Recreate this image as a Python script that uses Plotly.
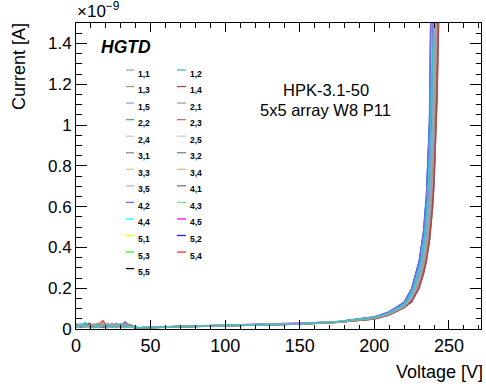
import plotly.graph_objects as go

# ---------------- data ----------------
labels = ["1,1", "1,2", "1,3", "1,4", "1,5", "2,1", "2,2", "2,3", "2,4", "2,5",
          "3,1", "3,2", "3,3", "3,4", "3,5", "4,1", "4,2", "4,3", "4,4", "4,5",
          "5,1", "5,2", "5,3", "5,4", "5,5"]

colors = ["#8fa9c0", "#3fbfbf", "#a89a78", "#a84848", "#8ea8e8", "#a898c0", "#4fb080",
          "#c07850", "#c8c8c8", "#b0d8cc", "#909090", "#808080", "#d0d088", "#e0b888",
          "#c0b4b4", "#906868", "#6f6fe0", "#7be07b", "#00ffff", "#ff00ff", "#ffff00",
          "#2020ff", "#22ff22", "#ff3030", "#000000"]

# bias voltage points [V]
volt_noise = [0, 3, 6, 9, 12, 15, 18, 21, 24, 27, 30, 33, 36, 39]
volt_smooth = [42, 50, 75, 100, 125, 150, 175]
volt_tail = [200, 210, 220, 225, 230, 233, 235, 237, 238, 239, 240, 241, 242, 243, 244]

# leakage current [pA], one row per pad (same order as labels)
noise_pA = [
    [12, 20, 8, 15, 22, 10, 18, 6, 14, 24, 9, 16, 11, 7],
    [18, 10, 25, 13, 6, 19, 12, 22, 8, 15, 20, 10, 17, 9],
    [8, 15, 21, 9, 17, 13, 24, 11, 19, 7, 14, 22, 9, 12],
    [22, 9, 14, 27, 11, 16, 8, 20, 13, 25, 10, 15, 19, 6],
    [15, 26, 11, 18, 9, 21, 14, 7, 23, 12, 18, 8, 14, 10],
    [10, 14, 19, 7, 24, 12, 17, 26, 10, 16, 23, 13, 8, 15],
    [25, 12, 16, 21, 14, 8, 22, 13, 17, 9, 26, 11, 20, 8],
    [9, 19, 13, 24, 16, 27, 10, 18, 12, 21, 15, 24, 10, 13],
    [14, 7, 22, 11, 19, 15, 9, 23, 16, 11, 19, 8, 15, 11],
    [20, 16, 10, 17, 25, 11, 19, 14, 21, 13, 8, 17, 23, 7],
    [7, 22, 17, 12, 8, 23, 15, 10, 26, 18, 12, 20, 13, 9],
    [17, 11, 27, 14, 20, 9, 13, 24, 11, 19, 16, 9, 21, 12],
    [11, 24, 9, 19, 13, 18, 26, 8, 15, 22, 11, 18, 10, 14],
    [23, 13, 15, 8, 18, 24, 11, 17, 9, 14, 25, 12, 16, 8],
    [13, 18, 23, 16, 10, 14, 20, 12, 24, 8, 17, 21, 12, 10],
    [19, 8, 12, 22, 15, 20, 9, 25, 14, 17, 11, 23, 18, 11],
    [16, 23, 10, 13, 21, 7, 18, 15, 11, 26, 14, 35, 13, 9],
    [9, 14, 20, 25, 12, 17, 23, 9, 18, 12, 21, 10, 24, 13],
    [21, 17, 33, 10, 16, 13, 11, 19, 22, 9, 15, 19, 11, 8],
    [14, 21, 16, 9, 23, 18, 15, 12, 20, 16, 9, 14, 22, 12],
    [10, 12, 18, 20, 11, 25, 14, 21, 9, 19, 13, 16, 9, 11],
    [24, 15, 12, 16, 19, 11, 21, 10, 17, 23, 18, 11, 15, 7],
    [12, 19, 24, 11, 26, 15, 10, 16, 13, 10, 22, 15, 19, 10],
    [17, 10, 14, 23, 12, 19, 40, 13, 25, 15, 11, 20, 14, 9],
    [8, 16, 21, 14, 17, 10, 13, 20, 11, 16, 24, 9, 12, 11],
]

smooth_pA = [
    [5, 8, 13, 18, 21, 25, 34],
    [6, 9, 14, 19, 22, 26, 35],
    [5, 7, 13, 17, 21, 25, 33],
    [4, 7, 12, 17, 20, 24, 33],
    [5, 8, 13, 18, 21, 25, 34],
    [6, 8, 14, 18, 22, 26, 35],
    [5, 8, 13, 18, 21, 25, 34],
    [4, 7, 12, 17, 20, 24, 33],
    [5, 7, 13, 17, 21, 25, 33],
    [6, 9, 14, 19, 22, 26, 35],
    [5, 8, 13, 18, 21, 25, 34],
    [4, 7, 12, 17, 20, 24, 33],
    [6, 8, 14, 18, 22, 26, 35],
    [5, 7, 13, 17, 21, 25, 33],
    [5, 8, 13, 18, 21, 25, 34],
    [4, 7, 12, 17, 20, 24, 33],
    [6, 9, 14, 19, 23, 27, 36],
    [5, 8, 13, 18, 21, 25, 34],
    [6, 9, 14, 19, 22, 26, 35],
    [5, 8, 13, 18, 22, 26, 34],
    [5, 8, 13, 18, 21, 25, 34],
    [6, 9, 14, 19, 23, 27, 36],
    [5, 8, 14, 18, 22, 26, 35],
    [5, 7, 13, 17, 21, 25, 33],
    [5, 8, 13, 18, 21, 25, 34],
]

tail_pA = [
    [54, 73, 112, 155, 248, 342, 440, 600, 725, 900, 1150, 1500, 1950, 2500, 3150],
    [57, 79, 122, 175, 290, 410, 550, 800, 1000, 1300, 1700, 2200, 2800, 3500, 4300],
    [52, 72, 111, 150, 235, 325, 410, 550, 650, 800, 1000, 1300, 1700, 2200, 2800],
    [49, 69, 106, 135, 202, 275, 342, 440, 510, 600, 725, 900, 1150, 1500, 1950],
    [55, 75, 115, 160, 260, 360, 470, 650, 800, 1000, 1300, 1700, 2200, 2800, 3500],
    [51, 71, 110, 145, 222, 308, 385, 510, 600, 725, 900, 1150, 1500, 1950, 2500],
    [56, 76, 117, 162, 265, 368, 480, 665, 820, 1030, 1340, 1750, 2250, 2850, 3550],
    [50, 70, 108, 140, 210, 290, 360, 470, 550, 650, 800, 1000, 1300, 1700, 2200],
    [53, 72, 112, 151, 238, 330, 415, 560, 660, 815, 1020, 1330, 1730, 2230, 2830],
    [54, 74, 113, 157, 250, 345, 445, 610, 740, 920, 1180, 1540, 2000, 2560, 3200],
    [51, 70, 109, 144, 220, 305, 380, 505, 595, 715, 890, 1140, 1480, 1930, 2480],
    [55, 74, 114, 158, 256, 355, 462, 640, 785, 980, 1270, 1660, 2160, 2760, 3460],
    [52, 71, 110, 149, 232, 322, 405, 545, 640, 790, 985, 1280, 1680, 2180, 2780],
    [50, 69, 107, 139, 208, 287, 356, 465, 545, 642, 790, 985, 1285, 1680, 2180],
    [51, 71, 110, 146, 224, 310, 388, 515, 605, 732, 910, 1165, 1520, 1970, 2520],
    [49, 68, 105, 134, 200, 272, 338, 435, 505, 592, 715, 885, 1130, 1480, 1930],
    [59, 83, 130, 195, 325, 470, 650, 1000, 1300, 1700, 2200, 2800, 3500, 4300, 5200],
    [54, 73, 112, 155, 247, 340, 438, 598, 722, 895, 1145, 1495, 1945, 2495, 3145],
    [58, 81, 126, 185, 308, 440, 600, 900, 1150, 1500, 1950, 2500, 3150, 3900, 4750],
    [56, 77, 119, 167, 275, 385, 510, 725, 900, 1150, 1500, 1950, 2500, 3150, 3900],
    [55, 75, 115, 160, 260, 360, 470, 650, 800, 1000, 1300, 1700, 2200, 2800, 3500],
    [59, 84, 131, 197, 330, 478, 662, 1020, 1330, 1740, 2250, 2860, 3570, 4380, 5300],
    [56, 77, 120, 168, 277, 388, 515, 732, 910, 1165, 1520, 1975, 2530, 3180, 3940],
    [52, 72, 111, 150, 235, 325, 410, 550, 650, 800, 1000, 1300, 1700, 2200, 2800],
    [54, 73, 112, 155, 248, 342, 440, 600, 725, 900, 1150, 1500, 1950, 2500, 3150],
]

# ---------------- figure ----------------
W, H = 486, 389
ML, MR, MT, MB = 76, 5, 23, 60
PW, PH = W - ML - MR, H - MT - MB
FONT = "Liberation Sans, Arial, Helvetica, sans-serif"


def px(xp):
    return (xp - ML) / PW


def py(yp):
    return (MT + PH - yp) / PH


volts = volt_noise + volt_smooth + volt_tail
# draw from the last pad to the first, with pad 1,2 (teal) on top
draw_order = [i for i in reversed(range(len(labels))) if i != 1] + [1]

fig = go.Figure()
for i in draw_order:
    cur_nA = [v / 1000.0 for v in noise_pA[i] + smooth_pA[i] + tail_pA[i]]
    fig.add_trace(go.Scatter(
        x=volts, y=cur_nA, mode="lines", name=labels[i],
        line=dict(color=colors[i], width=1.5), showlegend=False,
    ))

shapes = []
annotations = []

# hand-built two-column legend (built from labels / colors)
for i, lab in enumerate(labels):
    row, col = i // 2, i % 2
    yt = 73.5 + 16.55 * row
    x0, x1, xt = (126, 134, 136) if col == 0 else (177, 186, 188)
    shapes.append(dict(type="line", xref="paper", yref="paper",
                       x0=px(x0), x1=px(x1), y0=py(yt - 3.5), y1=py(yt - 3.5),
                       line=dict(color=colors[i], width=1.3)))
    annotations.append(dict(text="<b>%s</b>" % lab, xref="paper", yref="paper",
                            x=px(xt), y=py(yt), xanchor="left", yanchor="middle",
                            showarrow=False, font=dict(size=8.5, color="black", family=FONT)))

annotations += [
    dict(text="<b><i>HGTD</i></b>", xref="paper", yref="paper", x=px(99), y=py(47),
         xanchor="left", yanchor="middle", showarrow=False,
         font=dict(size=17.5, color="black", family=FONT)),
    dict(text="HPK-3.1-50", xref="paper", yref="paper", x=px(326), y=py(90),
         xanchor="center", yanchor="middle", showarrow=False,
         font=dict(size=16.5, color="black", family=FONT)),
    dict(text="5x5 array W8 P11", xref="paper", yref="paper", x=px(325), y=py(110),
         xanchor="center", yanchor="middle", showarrow=False,
         font=dict(size=16.5, color="black", family=FONT)),
    dict(text="×10<sup>−9</sup>", xref="paper", yref="paper", x=px(75), y=py(23),
         xanchor="left", yanchor="bottom", showarrow=False,
         font=dict(size=17, color="black", family=FONT)),
    dict(text="Voltage [V]", xref="paper", yref="paper", x=px(485), y=py(372),
         xanchor="right", yanchor="middle", showarrow=False,
         font=dict(size=18, color="black", family=FONT)),
    dict(text="Current [A]", xref="paper", yref="paper", x=px(19), y=py(66),
         xanchor="center", yanchor="middle", showarrow=False, textangle=-90,
         font=dict(size=18, color="black", family=FONT)),
]

fig.update_layout(
    width=W, height=H,
    margin=dict(l=ML, r=MR, t=MT, b=MB, autoexpand=False),
    paper_bgcolor="white", plot_bgcolor="white",
    font=dict(family=FONT, color="black"),
    shapes=shapes, annotations=annotations,
    showlegend=False,
)
fig.update_xaxes(
    range=[0, 271.5], tick0=0, dtick=50, ticks="inside", ticklen=9, tickwidth=1,
    tickcolor="black", showline=True, linecolor="black", linewidth=1, mirror="ticks",
    showgrid=False, zeroline=False, tickfont=dict(size=18, family=FONT), automargin=False,
    minor=dict(dtick=10, ticks="inside", ticklen=4.5, tickcolor="black", showgrid=False),
)
fig.update_yaxes(
    range=[0, 1.5], tick0=0, dtick=0.2, ticks="inside", ticklen=11, tickwidth=1,
    tickcolor="black", showline=True, linecolor="black", linewidth=1, mirror="ticks",
    showgrid=False, zeroline=False, tickfont=dict(size=17, family=FONT), automargin=False,
    minor=dict(dtick=0.05, ticks="inside", ticklen=5.5, tickcolor="black", showgrid=False),
)

fig.write_html("out.html", config={"displayModeBar": False},
               post_script="document.body.style.margin='0px';")
